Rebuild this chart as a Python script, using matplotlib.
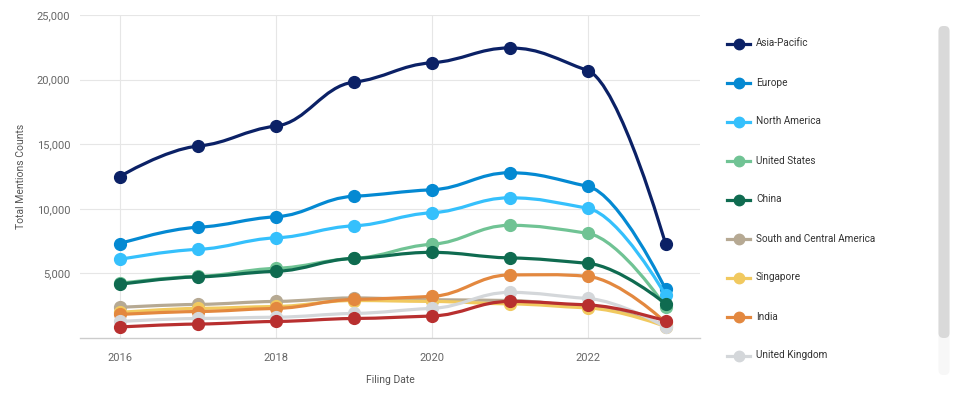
import numpy as np
import matplotlib
matplotlib.use("Agg")
import matplotlib.pyplot as plt
from matplotlib.path import Path
from matplotlib.patches import PathPatch, FancyBboxPatch
from matplotlib.lines import Line2D

plt.rcParams['font.family'] = ['Roboto', 'DejaVu Sans']

# data
years = [2016, 2017, 2018, 2019, 2020, 2021, 2022, 2023]
asia_pacific = [12500, 14850, 16400, 19800, 21300, 22450, 20700, 7250]
europe = [7300, 8570, 9380, 10970, 11470, 12790, 11740, 3760]
north_america = [6080, 6860, 7750, 8680, 9690, 10850, 10040, 3300]
united_states = [4230, 4770, 5390, 6160, 7250, 8720, 8100, 2400]
china = [4150, 4730, 5160, 6160, 6630, 6200, 5780, 2640]
south_central_america = [2370, 2600, 2830, 3100, 2960, 2900, 2440, 970]
singapore = [1980, 2290, 2440, 2900, 2830, 2640, 2330, 890]
india = [1820, 2050, 2290, 2980, 3220, 4880, 4770, 1200]
united_kingdom = [1280, 1510, 1610, 1900, 2290, 3530, 3060, 850]
hidden_series = [850, 1080, 1280, 1510, 1700, 2830, 2560, 1320]

names = ['Asia-Pacific', 'Europe', 'North America', 'United States', 'China',
         'South and Central America', 'Singapore', 'India', 'United Kingdom', 'Other']
series = [asia_pacific, europe, north_america, united_states, china,
          south_central_america, singapore, india, united_kingdom, hidden_series]
colors = ['#0b2166', '#0489d2', '#35c0fc', '#70c394', '#0f6b50',
          '#b6a993', '#f1c95f', '#e3883f', '#d4d7da', '#b82f2f']
legend_count = 9  # the last series is scrolled out of the legend


def smooth_path(xs, ys, flat=0.28, reach=0.4):
    # cubic pieces; inner tangents damped, end points use themselves as control
    n = len(xs)
    lc = [(xs[i], ys[i]) for i in range(n)]
    rc = [(xs[i], ys[i]) for i in range(n)]
    for i in range(1, n - 1):
        m = 0.0
        if (ys[i] - ys[i - 1]) * (ys[i + 1] - ys[i]) > 0:
            m = flat * (ys[i + 1] - ys[i - 1]) / (xs[i + 1] - xs[i - 1])
        dl = (xs[i] - xs[i - 1]) * reach
        dr = (xs[i + 1] - xs[i]) * reach
        lc[i] = (xs[i] - dl, ys[i] - m * dl)
        rc[i] = (xs[i] + dr, ys[i] + m * dr)
    verts = [(xs[0], ys[0])]
    codes = [Path.MOVETO]
    for i in range(1, n):
        verts += [rc[i - 1], lc[i], (xs[i], ys[i])]
        codes += [Path.CURVE4] * 3
    return Path(verts, codes)


fig = plt.figure(figsize=(9.75, 4), dpi=100)
ax = fig.add_axes([80 / 975, 62 / 400, 620 / 975, 323 / 400])

for vals, col in zip(series, colors):
    ax.add_patch(PathPatch(smooth_path(years, vals), fill=False, edgecolor=col,
                           lw=2.3, capstyle='round', joinstyle='round', zorder=3))
    ax.plot(years, vals, 'o', color=col, ms=8.5, zorder=3)

ax.set_xlim(2015.49, 2023.44)
ax.set_ylim(0, 25000)
ax.set_yticks([5000, 10000, 15000, 20000, 25000])
ax.set_yticklabels([f'{v:,}' for v in [5000, 10000, 15000, 20000, 25000]])
ax.set_xticks([2016, 2018, 2020, 2022])
ax.grid(True, color='#e6e6e6', lw=0.8, zorder=0)
for s in ['top', 'right', 'left']:
    ax.spines[s].set_visible(False)
ax.spines['bottom'].set_color('#cccccc')
ax.spines['bottom'].set_linewidth(1)
ax.tick_params(axis='both', length=0, labelsize=8, colors='#666666')
ax.tick_params(axis='x', pad=10.5)
ax.tick_params(axis='y', pad=7)
ax.set_ylabel('Total Mentions Counts', fontsize=7.5, color='#555555', labelpad=8)
ax.set_xlabel('Filing Date', fontsize=7.5, color='#555555', labelpad=9)

# overlay in pixel coordinates for the legend and scrollbar
ov = fig.add_axes([0, 0, 1, 1])
ov.set_xlim(0, 975)
ov.set_ylim(400, 0)
ov.axis('off')
ov.patch.set_alpha(0)

for i in range(legend_count):
    y = 43.5 + i * 39
    ov.add_line(Line2D([727, 750], [y, y], color=colors[i], lw=2.3))
    ov.plot(738.5, y, 'o', color=colors[i], ms=7.5)
    ov.text(756, y, names[i], fontsize=7.2, color='#333333', va='center', ha='left')

ov.add_patch(FancyBboxPatch((938.5, 26), 11, 349, boxstyle='round,pad=0,rounding_size=5',
                            fc='#f7f7f7', ec='none'))
ov.add_patch(FancyBboxPatch((938.5, 26), 11, 312, boxstyle='round,pad=0,rounding_size=5',
                            fc='#d9d9d9', ec='none'))

fig.savefig('out.png', dpi=100)
